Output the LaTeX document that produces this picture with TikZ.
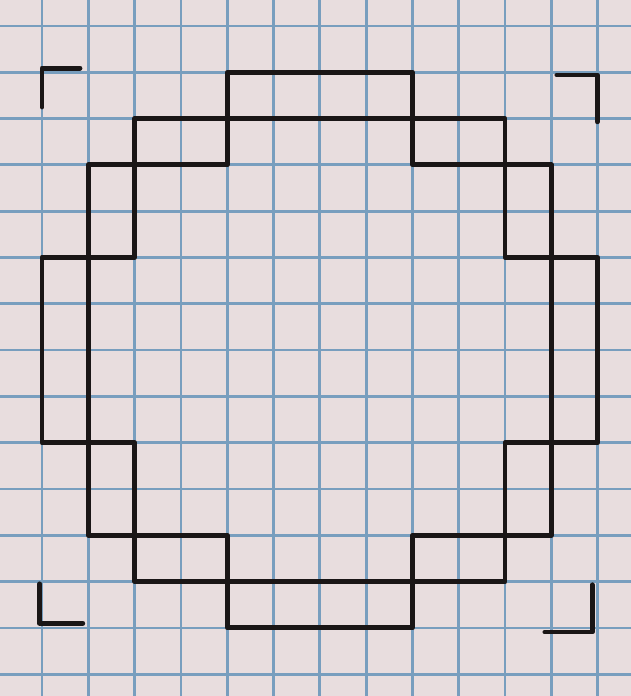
\documentclass[tikz,border=0pt]{standalone}
\usepackage{xcolor}
\usepackage{tikz}
\usetikzlibrary{calc}

\definecolor{paper}{RGB}{232,221,222}
\definecolor{gridblue}{RGB}{120,158,190}
\definecolor{pen}{RGB}{26,22,22}

\tikzset{
  gridline/.style={draw=gridblue, line width=1.7pt},
  penline/.style={draw=pen, line width=3pt, line join=round, line cap=round}
}

\begin{document}
\begin{tikzpicture}[x=1cm,y=1cm]

 % paper
 \fill[paper] (-0.907,-1.471) rectangle (12.72,13.56);
 \useasboundingbox (-0.907,-1.471) rectangle (12.72,13.56);
 \draw[gridline] (-1,-2) grid (13,14);

 % blocks of the ring
 \foreach \x/\y/\w/\h in {4/11/4/1, 2/10/2/1, 8/10/2/1, 1/8/1/2, 10/8/1/2,
                          0/4/1/4, 11/4/1/4, 1/2/1/2, 10/2/1/2,
                          2/1/2/1, 8/1/2/1, 4/0/4/1} {
         \draw[penline] (\x,\y) rectangle (\x+\w, \y+\h);
 }

 % corner marks
 \draw[penline] (0.82,12.09) -- (0,12.09) -- (0,11.25);
 \draw[penline] (11.12,11.94) -- (11.99,11.94) -- (11.99,10.93);
 \draw[penline] (-0.05,0.95) -- (-0.05,0.1) -- (0.88,0.1);
 \draw[penline] (11.88,0.93) -- (11.88,-0.09) -- (10.86,-0.09);

\end{tikzpicture}
\end{document}
